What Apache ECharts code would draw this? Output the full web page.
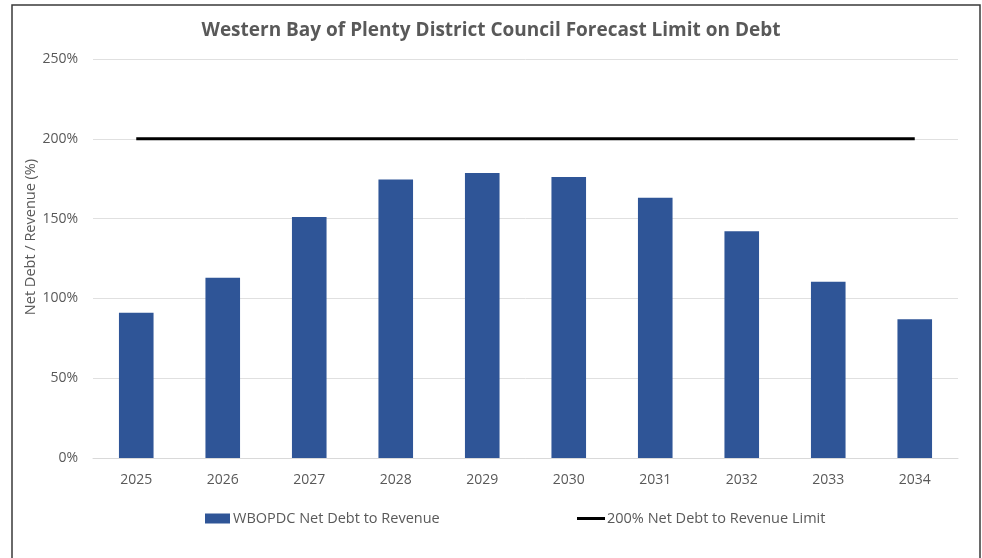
<!DOCTYPE html>
<html><head><meta charset="utf-8">
<script src="https://cdn.jsdelivr.net/npm/echarts@6/dist/echarts.min.js"></script>
<style>html,body{margin:0;padding:0;background:#fff}#c{width:982px;height:558px}</style>
</head><body><div id="c"></div>
<script>
const years = ['2025','2026','2027','2028','2029','2030','2031','2032','2033','2034'];
const netDebtToRevenue = [91, 113, 151, 174.5, 178.5, 176, 163, 142, 110.5, 87];
const debtLimit = [200, 200, 200, 200, 200, 200, 200, 200, 200, 200];
const barName = 'WBOPDC Net Debt to Revenue';
const lineName = '200% Net Debt to Revenue Limit';
const yAxisTitle = 'Net Debt / Revenue (%)';
const FONT = 'Open Sans';
const chart = echarts.init(document.getElementById('c'));
chart.setOption({
  backgroundColor: '#fff',
  animation: false,
  graphic: [
    {type:'rect', shape:{x:12, y:5, width:968, height:560}, style:{fill:'none', stroke:'#3a3a3a', lineWidth:1.5}, silent:true},
    {type:'text', x:31, y:237, rotation:Math.PI/2, silent:true,
     style:{text:yAxisTitle, fontFamily:FONT, fontSize:14.5, fill:'#595959', align:'center', verticalAlign:'middle'}}
  ],
  title: {text:'Western Bay of Plenty District Council Forecast Limit on Debt', left:'center', top:16,
    textStyle:{fontFamily:FONT, fontSize:19, fontWeight:'bold', color:'#595959'}},
  grid: {left:93, right:24, top:59, bottom:100},
  legend: [
    {data:[{name:barName, icon:'rect'}], left:205, top:511, padding:0, itemWidth:25, itemHeight:10,
     textStyle:{fontFamily:FONT, fontSize:14.5, color:'#595959', padding:[0,0,0,-2]}},
    {data:[{name:lineName, icon:'rect'}], left:577, top:511, padding:0, itemWidth:28, itemHeight:3,
     textStyle:{fontFamily:FONT, fontSize:14.5, color:'#595959', padding:[0,0,0,-3]}}
  ],
  xAxis: {type:'category', data:years, boundaryGap:true,
    axisLine:{lineStyle:{color:'#d9d9d9'}}, axisTick:{show:false},
    axisLabel:{fontFamily:FONT, fontSize:14, color:'#595959', margin:15}},
  yAxis: {type:'value', min:0, max:250, interval:50,
    axisLabel:{formatter:'{value}%', fontFamily:FONT, fontSize:14, color:'#595959', margin:15},
    splitLine:{lineStyle:{color:'#e0e0e0'}}, axisLine:{show:false}, axisTick:{show:false}},
  series: [
    {name:barName, type:'bar', data:netDebtToRevenue, barWidth:'40%', itemStyle:{color:'#2F5597'}},
    {name:lineName, type:'line', data:debtLimit, symbol:'none', lineStyle:{color:'#000', width:3}, itemStyle:{color:'#000'}}
  ]
});
</script></body></html>
